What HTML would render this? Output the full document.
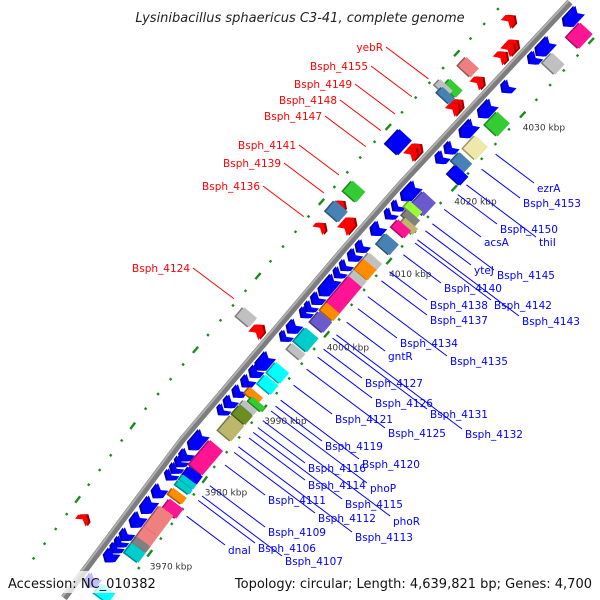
<!DOCTYPE html>
<html><head><meta charset="utf-8"><style>
html,body{margin:0;padding:0;background:#fff;width:600px;height:600px;overflow:hidden;}
svg{display:block;overflow:hidden;}
text{font-family:"DejaVu Sans","Liberation Sans",sans-serif;}
</style></head><body>
<svg id="chart" width="600" height="600" viewBox="0 0 600 600" xmlns="http://www.w3.org/2000/svg">
<g id="dots"></g>
<g id="bar"></g>
<g id="feats"></g>
<g id="leaders"></g>
<g id="labels"></g>
<text x="300" y="22" text-anchor="middle" font-size="13" font-style="italic" fill="#222">Lysinibacillus sphaericus C3-41, complete genome</text>
<rect x="0" y="571" width="600" height="22" fill="#fff" fill-opacity="0.75"/>
<text x="8" y="588" font-size="13" fill="#111">Accession: NC_010382</text>
<text x="592" y="588" font-size="13" text-anchor="end" fill="#111">Topology: circular; Length: 4,639,821 bp; Genes: 4,700</text>
</svg>
<script>
// ---- data ----
const blueArrowKbp = [4040.4,4036.7,4035.9,4034.8,4030.9,4027.9,4025.2,4022.6,4021.3,4017,4016.2,4014.7,4013.6,4011.6,4009.2,4008,4006.6,4005.6,4003.9,4002.1,4001,4000.2,3998.3,3997,3993.6,3992.2,3990.9,3989.5,3988.1,3987,3982.9,3980.8,3979.9,3979,3978.1,3975.9,3974,3972,3970,3969,3968.2,3967.2,3963.8];
const blueArrowLen = [22,14,12,12,12,20,20,12,12,16,12,10,10,14,12,12,10,10,24,12,10,10,14,10,20,12,12,12,12,10,22,12,10,10,10,14,18,16,12,10,10,14,14];
const boxKbp = [4039.6,4035.8,4027.6,4024.4,4022.4,4021.2,4016.8,4015.6,4014.8,4014,4013.3,4011.2,4008.8,4007.7,4006.4,4004.2,4002,4000.6,3998.2,3996.6,3993.7,3992.1,3990.3,3989.8,3989,3988,3986.2,3982.2,3979.6,3978.7,3978,3976.8,3975.4,3973.4,3971.2,3970.2,3969.1,3963.6];
const boxLen = [20,14,18,18,12,12,18,8,8,8,10,14,10,14,10,36,10,14,18,8,14,12,8,6,6,12,20,32,10,6,6,8,12,26,14,8,12,12];
const boxLane = [30,30,30,30,30,36,30,26,30,34,30,30,30,30,30,30,30,30,30,30,30,30,26,34,30,30,30,30,30,30,30,30,34,30,30,30,30,30];
const boxColor = ["#ff1493","#c0c0c0","#33cc33","#eee8aa","#4682b4","#0000ff","#6a5acd","#99ff33","#808080","#bdb76b","#ff1493","#4682b4","#c0c0c0","#ff8c00","#c0c0c0","#ff1493","#ff8c00","#6a5acd","#00cccc","#c0c0c0","#00ffff","#00ffff","#ff8c00","#33cc33","#c0c0c0","#6b8e23","#bdb76b","#ff1493","#0000ff","#00cccc","#00cccc","#ff8c00","#ff1493","#f08080","#f08080","#808080","#00cccc","#00ffff"];
const redArrowKbp = [4036,4034.4,4033.9,4032.8,4029.4,4026.3,4025.8,4020.3,4019.7,4011,4010,4008,3995.7,3968.7];
const redArrowLen = [12,12,12,12,12,12,12,12,12,10,18,10,14,10];
const redArrowLane = [-32,-13,-13,-13,-13,-13,-13,-13,-13,-32,-13,-32,-13,-32];
const leftBoxKbp = [4029.8,4027.2,4026.6,4026.2,4019.6,4013,4010.3,3996];
const leftBoxLen = [12,10,8,8,20,14,14,12];
const leftBoxLane = [-30,-27,-34,-27,-30,-30,-30,-30];
const leftBoxColor = ["#f08080","#33cc33","#c0c0c0","#4682b4","#0000ff","#33cc33","#4682b4","#c0c0c0"];
const kbpTicks = [3970,3980,3990,4000,4010,4020,4030];
const blueLabels = ["ezrA","Bsph_4153","Bsph_4150","thiI","acsA","yteJ","Bsph_4145","Bsph_4140","Bsph_4142","Bsph_4138","Bsph_4143","Bsph_4137","Bsph_4134","gntR","Bsph_4135","Bsph_4127","Bsph_4126","Bsph_4131","Bsph_4121","Bsph_4125","Bsph_4132","Bsph_4119","Bsph_4120","Bsph_4116","Bsph_4114","phoP","Bsph_4111","Bsph_4115","Bsph_4112","phoR","Bsph_4109","Bsph_4113","dnaI","Bsph_4106","Bsph_4107"];
const blueLabelX = [537,523,500,539,484,474,497,444,494,430,522,430,400,388,450,365,375,430,335,388,465,325,362,308,308,370,268,345,318,393,268,355,228,258,285];
const blueLabelY = [192,207,233,246,246,274,279,292,309,309,325,324,347,360,365,387,407,418,423,437,438,450,468,472,489,492,504,508,522,525,536,541,554,552,565];
const redLabels = ["yebR","Bsph_4155","Bsph_4149","Bsph_4148","Bsph_4147","Bsph_4141","Bsph_4139","Bsph_4136","Bsph_4124"];
const redLabelEndX = [383,368,352,337,322,296,281,260,190];
const redLabelY = [51,70,88,104,120,149,167,190,272];

// ---- geometry ----
const BP=[[570,2],[400,185],[343,250],[182,440],[64,598]];
function bar(y){
  for(let i=0;i<BP.length-1;i++){
    const a=BP[i],b=BP[i+1];
    if(y<=b[1]||i===BP.length-2){
      const d=(b[0]-a[0])/(b[1]-a[1]);
      return {x:a[0]+(y-a[1])*d,y:y,d:d};
    }
  }
}
function yOf(k){return 86+(4030-k)*7.37;}
function place(k,lane){
  const b=bar(yOf(k));const n=Math.sqrt(1+b.d*b.d);
  return {x:b.x+lane/n,y:b.y-lane*b.d/n,ang:Math.atan2(1,b.d)*180/Math.PI};
}
function perp(x,y){const b=bar(y);return (x-b.x)/Math.sqrt(1+b.d*b.d);}
const NS="http://www.w3.org/2000/svg";
function mk(tag,parent,attrs){const e=document.createElementNS(NS,tag);for(const k in attrs)e.setAttribute(k,attrs[k]);parent.appendChild(e);return e;}
function shade(c,f){const v=parseInt(c.slice(1),16);const r=Math.round(((v>>16)&255)*f),g=Math.round(((v>>8)&255)*f),bl=Math.round((v&255)*f);return "rgb("+r+","+g+","+bl+")";}

// dots
const gd=document.getElementById('dots');
for(let k=3962;k<=4040;k+=2){
  const dash=(k%10===0);
  [-48,42].forEach(function(lane){
    const p=place(k,lane);
    if(p.y<3||p.y>597||p.x<3||p.x>597) return;
    const el=mk('rect',gd,{x:-(dash?4:1.2),y:-1.2,width:dash?8:2.4,height:2.4,fill:'#1a8a1a',transform:'translate('+p.x.toFixed(1)+','+p.y.toFixed(1)+') rotate('+p.ang.toFixed(1)+')'});
    
    
  });
}
kbpTicks.forEach(function(k){
  const p=place(k,42);
  const t=mk('text',gd,{x:p.x.toFixed(1),y:(p.y+16).toFixed(1),'font-size':'9',fill:'#333'});
  t.textContent=k+' kbp';
  
  
});

// backbone
const gb=document.getElementById('bar');
const pts=BP.map(p=>p.join(',')).join(' ');
const b1=mk('polyline',gb,{points:pts,fill:'none',stroke:'#7d7d7d','stroke-width':'7'});


const b2=mk('polyline',gb,{points:BP.map(p=>(p[0]-1.5)+','+(p[1]-1.3)).join(' '),fill:'none',stroke:'#b0b0b0','stroke-width':'2'});



// features
const gf=document.getElementById('feats');
function arrow(k,len,lane,color,dir,name){
  const p=place(k,lane);const w=13,h=len/2;
  const poly=(-h)+','+(-w/2)+' '+(h-5)+','+(-w/2)+' '+h+',0 '+(h-5)+','+(w/2)+' '+(-h)+','+(w/2)+' '+(-h+4)+',0';
  const ang=dir>0?p.ang:p.ang+180;
  const g=mk('g',gf,{transform:'translate('+p.x.toFixed(1)+','+p.y.toFixed(1)+') rotate('+ang.toFixed(1)+')'});
  
  
  mk('polygon',g,{points:poly,fill:shade(color,0.6),transform:'translate(1.5,1.5)'});
  mk('polygon',g,{points:poly,fill:color});
}
function box(k,len,lane,color,name){
  const p=place(k,lane);const w=17;
  const g=mk('g',gf,{transform:'translate('+p.x.toFixed(1)+','+p.y.toFixed(1)+') rotate('+p.ang.toFixed(1)+')'});
  
  
  mk('rect',g,{x:-len/2+1.5,y:-w/2+1.5,width:len,height:w,fill:shade(color,0.65)});
  mk('rect',g,{x:-len/2,y:-w/2,width:len,height:w,fill:color});
}
blueArrowKbp.forEach(function(k,i){arrow(k,blueArrowLen[i],13,'#0000ff',1,'gene-arrow-reverse');});
boxKbp.forEach(function(k,i){box(k,boxLen[i],boxLane[i],boxColor[i],'gene-box');});
redArrowKbp.forEach(function(k,i){arrow(k,redArrowLen[i],redArrowLane[i],'#ff0000',-1,'gene-arrow-forward');});
leftBoxKbp.forEach(function(k,i){box(k,leftBoxLen[i],leftBoxLane[i],leftBoxColor[i],'gene-box-forward');});

// labels
const gl=document.getElementById('leaders'),gt=document.getElementById('labels');
blueLabels.forEach(function(s,i){
  const lx=blueLabelX[i]-3,ly=blueLabelY[i]-9;
  let x=lx,y=ly;
  for(let j=0;j<300&&perp(x,y)>50;j++){x-=0.8;y-=0.6;}
  const l=mk('line',gl,{x1:x.toFixed(1),y1:y.toFixed(1),x2:lx,y2:ly,stroke:'#0000ff','stroke-width':'1'});
  
  
  const t=mk('text',gt,{x:blueLabelX[i],y:blueLabelY[i],'font-size':'10.5',fill:'#0000ff'});
  t.textContent=s;
  
  
});
redLabels.forEach(function(s,i){
  const lx=redLabelEndX[i]+3,ly=redLabelY[i]-4;
  let x=lx,y=ly;
  for(let j=0;j<300&&perp(x,y)<-52;j++){x+=0.8;y+=0.6;}
  const l=mk('line',gl,{x1:lx,y1:ly,x2:x.toFixed(1),y2:y.toFixed(1),stroke:'#ff0000','stroke-width':'1'});
  
  
  const t=mk('text',gt,{x:redLabelEndX[i],y:redLabelY[i],'font-size':'10.5',fill:'#ff0000','text-anchor':'end'});
  t.textContent=s;
  
  
});
</script>
</body></html>
